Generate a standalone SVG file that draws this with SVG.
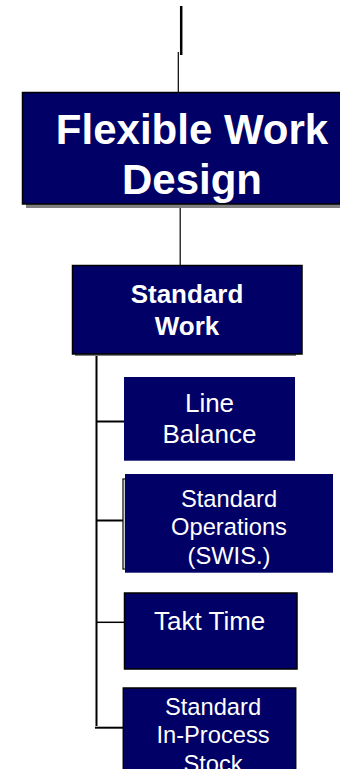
<svg xmlns="http://www.w3.org/2000/svg" width="340" height="769" viewBox="0 0 340 769">
<style>
.box{fill:#000066}
.bd{stroke:#000;stroke-width:1.5}
.sh{fill:#808080}
.t{fill:#fff;font-family:"Liberation Sans",Arial,sans-serif;text-anchor:middle}
.b{font-weight:bold}
.c{stroke:#000;fill:none}
</style>
<rect width="340" height="769" fill="#fff"/>
<g id="connectors">
<line class="c" x1="181.2" y1="6" x2="181.2" y2="55" stroke-width="2.5"/>
<line class="c" x1="178.3" y1="52" x2="178.3" y2="92" stroke-width="1.2"/>
<line class="c" x1="180.2" y1="208" x2="180.2" y2="266" stroke-width="1.2"/>
<line class="c" x1="96.5" y1="355" x2="96.5" y2="726" stroke-width="2"/>
<line class="c" x1="96" y1="421.5" x2="124" y2="421.5" stroke-width="2"/>
<line class="c" x1="96" y1="520.5" x2="124" y2="520.5" stroke-width="2"/>
<line class="c" x1="96" y1="622.3" x2="124" y2="622.3" stroke-width="1.5"/>
<line class="c" x1="95" y1="727.7" x2="123" y2="727.7" stroke-width="2"/>
</g>
<g id="flexible-work-design">
<rect class="sh" x="26" y="96" width="320" height="112"/>
<rect class="box bd" x="22.5" y="92.5" width="320" height="111.5"/>
<text class="t b" x="192" y="144" font-size="42">Flexible Work</text>
<text class="t b" x="192" y="194" font-size="42">Design</text>
</g>
<g id="standard-work">
<rect class="sh" x="75" y="268" width="221" height="88"/>
<rect class="box bd" x="72.5" y="265.5" width="229.5" height="88.5"/>
<text class="t b" x="187" y="303.3" font-size="26">Standard</text>
<text class="t b" x="187" y="335" font-size="26">Work</text>
</g>
<g id="line-balance">
<rect class="box" x="124" y="377" width="171" height="83.7"/>
<text class="t" x="209.5" y="412.3" font-size="26">Line</text>
<text class="t" x="209.5" y="443.3" font-size="26">Balance</text>
</g>
<g id="standard-operations">
<rect x="123" y="479" width="20" height="90" fill="#fff" stroke="#000" stroke-width="1.2"/>
<rect x="124.5" y="479.5" width="1.5" height="89" fill="#999"/>
<rect class="box" x="125" y="474" width="208" height="98.7"/>
<text class="t" x="229" y="506.7" font-size="23.7">Standard</text>
<text class="t" x="229" y="535" font-size="23.7">Operations</text>
<text class="t" x="229" y="564" font-size="23.7">(SWIS.)</text>
</g>
<g id="takt-time">
<rect class="box bd" x="124.5" y="593" width="172.5" height="76"/>
<text class="t" x="209.7" y="630" font-size="26">Takt Time</text>
</g>
<g id="standard-in-process-stock">
<rect class="box bd" x="123.3" y="688" width="172.4" height="90"/>
<text class="t" x="213" y="715" font-size="23.7">Standard</text>
<text class="t" x="213" y="743.3" font-size="23.7">In-Process</text>
<text class="t" x="213" y="771.8" font-size="23.7">Stock</text>
</g>
</svg>
